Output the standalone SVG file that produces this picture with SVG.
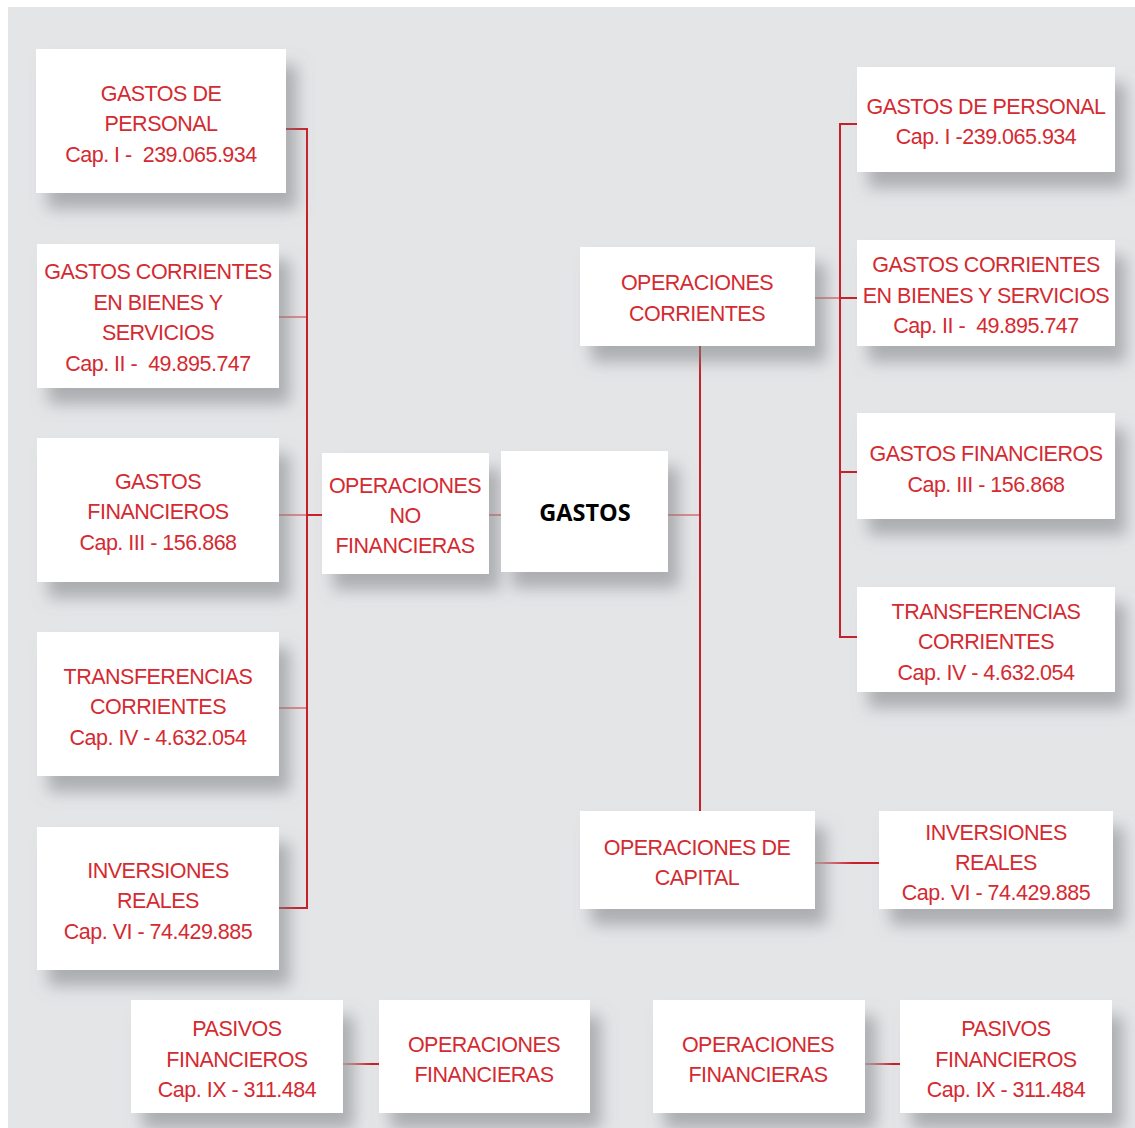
<svg xmlns="http://www.w3.org/2000/svg" width="1135" height="1128" viewBox="0 0 1135 1128">
<defs>
<filter id="sh" x="-20%" y="-20%" width="150%" height="170%">
<feDropShadow dx="11" dy="16" stdDeviation="8" flood-color="#7e8084" flood-opacity="0.55"/>
</filter>
<linearGradient id="g1" gradientUnits="userSpaceOnUse" x1="815" y1="0" x2="879" y2="0"><stop offset="0" stop-color="#dba3a7"/><stop offset="0.6" stop-color="#c8202a"/></linearGradient>
<linearGradient id="g2" gradientUnits="userSpaceOnUse" x1="343" y1="0" x2="379" y2="0"><stop offset="0" stop-color="#dba3a7"/><stop offset="0.8" stop-color="#c8202a"/></linearGradient>
<linearGradient id="g3" gradientUnits="userSpaceOnUse" x1="865" y1="0" x2="900" y2="0"><stop offset="0" stop-color="#dba3a7"/><stop offset="0.8" stop-color="#c8202a"/></linearGradient>
</defs>
<style>
.box{fill:#ffffff;filter:url(#sh)}
.t{font-family:"Liberation Sans",Arial,sans-serif;font-size:21.5px;letter-spacing:-0.5px;fill:#d42a31;text-anchor:middle;white-space:pre}
.b{font-family:"Open Sans","Liberation Sans",sans-serif;font-size:23.5px;font-weight:bold;fill:#000;text-anchor:middle}
.ln{stroke:#c8202a;stroke-width:2;fill:none}
.pk{stroke:#d98a8f;stroke-width:2;fill:none}
</style>
<rect x="0" y="0" width="1135" height="1128" fill="#ffffff"/>
<rect x="8" y="7" width="1127" height="1121" fill="#e4e5e7"/>

<g id="connectors">
<line class="ln" x1="307" y1="129" x2="307" y2="909"/>
<line class="ln" x1="286" y1="129" x2="308" y2="129"/>
<line class="pk" x1="279" y1="317" x2="306" y2="317"/>
<line class="pk" x1="279" y1="515" x2="306" y2="515"/>
<line class="ln" x1="306" y1="515" x2="322" y2="515"/>
<line class="pk" x1="279" y1="708" x2="306" y2="708"/>
<line class="ln" x1="279" y1="908" x2="308" y2="908"/>
<line class="pk" x1="489" y1="515" x2="501" y2="515"/>
<line class="pk" x1="668" y1="515" x2="699" y2="515"/>
<line class="ln" x1="700" y1="346" x2="700" y2="811"/>
<line class="pk" x1="815" y1="298" x2="839" y2="298"/>
<line class="ln" x1="839" y1="298" x2="857" y2="298"/>
<line class="ln" x1="840" y1="123" x2="840" y2="638"/>
<line class="ln" x1="839" y1="124" x2="857" y2="124"/>
<line class="ln" x1="840" y1="472" x2="857" y2="472"/>
<line class="ln" x1="839" y1="637" x2="857" y2="637"/>
<line stroke="url(#g1)" stroke-width="2" x1="815" y1="863" x2="879" y2="863"/>
<line stroke="url(#g2)" stroke-width="2" x1="343" y1="1064" x2="379" y2="1064"/>
<line stroke="url(#g3)" stroke-width="2" x1="865" y1="1064" x2="900" y2="1064"/>
</g>

<g id="l-personal"><rect class="box" x="36" y="49" width="250" height="144"/>
<text class="t" x="161" y="101">GASTOS DE</text><text class="t" x="161" y="131">PERSONAL</text><text class="t" x="161" y="162">Cap. I -  239.065.934</text></g>
<g id="l-corrientes"><rect class="box" x="37" y="244" width="242" height="144"/>
<text class="t" x="158" y="279">GASTOS CORRIENTES</text><text class="t" x="158" y="310">EN BIENES Y</text><text class="t" x="158" y="340">SERVICIOS</text><text class="t" x="158" y="371">Cap. II -  49.895.747</text></g>
<g id="l-financieros"><rect class="box" x="37" y="438" width="242" height="144"/>
<text class="t" x="158" y="489">GASTOS</text><text class="t" x="158" y="519">FINANCIEROS</text><text class="t" x="158" y="550">Cap. III - 156.868</text></g>
<g id="l-transferencias"><rect class="box" x="37" y="632" width="242" height="144"/>
<text class="t" x="158" y="684">TRANSFERENCIAS</text><text class="t" x="158" y="714">CORRIENTES</text><text class="t" x="158" y="745">Cap. IV - 4.632.054</text></g>
<g id="l-inversiones"><rect class="box" x="37" y="827" width="242" height="143"/>
<text class="t" x="158" y="878">INVERSIONES</text><text class="t" x="158" y="908">REALES</text><text class="t" x="158" y="939">Cap. VI - 74.429.885</text></g>

<g id="op-no-fin"><rect class="box" x="322" y="453" width="167" height="121"/>
<text class="t" x="405" y="493">OPERACIONES</text><text class="t" x="405" y="523">NO</text><text class="t" x="405" y="553">FINANCIERAS</text></g>
<g id="gastos"><rect class="box" x="501" y="451" width="167" height="121"/>
<text class="b" x="585" y="521">GASTOS</text></g>

<g id="op-corrientes"><rect class="box" x="580" y="247" width="235" height="99"/>
<text class="t" x="697" y="290">OPERACIONES</text><text class="t" x="697" y="321">CORRIENTES</text></g>
<g id="op-capital"><rect class="box" x="580" y="811" width="235" height="98"/>
<text class="t" x="697" y="855">OPERACIONES DE</text><text class="t" x="697" y="885">CAPITAL</text></g>

<g id="r-personal"><rect class="box" x="857" y="67" width="258" height="105"/>
<text class="t" x="986" y="114">GASTOS DE PERSONAL</text><text class="t" x="986" y="144">Cap. I -239.065.934</text></g>
<g id="r-corrientes"><rect class="box" x="857" y="240" width="258" height="106"/>
<text class="t" x="986" y="272">GASTOS CORRIENTES</text><text class="t" x="986" y="303">EN BIENES Y SERVICIOS</text><text class="t" x="986" y="333">Cap. II -  49.895.747</text></g>
<g id="r-financieros"><rect class="box" x="857" y="413" width="258" height="106"/>
<text class="t" x="986" y="461">GASTOS FINANCIEROS</text><text class="t" x="986" y="492">Cap. III - 156.868</text></g>
<g id="r-transferencias"><rect class="box" x="857" y="587" width="258" height="105"/>
<text class="t" x="986" y="619">TRANSFERENCIAS</text><text class="t" x="986" y="649">CORRIENTES</text><text class="t" x="986" y="680">Cap. IV - 4.632.054</text></g>
<g id="r-inversiones"><rect class="box" x="879" y="811" width="234" height="98"/>
<text class="t" x="996" y="840">INVERSIONES</text><text class="t" x="996" y="870">REALES</text><text class="t" x="996" y="900">Cap. VI - 74.429.885</text></g>

<g id="l-pasivos"><rect class="box" x="131" y="1000" width="212" height="113"/>
<text class="t" x="237" y="1036">PASIVOS</text><text class="t" x="237" y="1067">FINANCIEROS</text><text class="t" x="237" y="1097">Cap. IX - 311.484</text></g>
<g id="l-op-fin"><rect class="box" x="379" y="1000" width="211" height="113"/>
<text class="t" x="484" y="1052">OPERACIONES</text><text class="t" x="484" y="1082">FINANCIERAS</text></g>
<g id="r-op-fin"><rect class="box" x="653" y="1000" width="212" height="113"/>
<text class="t" x="758" y="1052">OPERACIONES</text><text class="t" x="758" y="1082">FINANCIERAS</text></g>
<g id="r-pasivos"><rect class="box" x="900" y="1000" width="212" height="113"/>
<text class="t" x="1006" y="1036">PASIVOS</text><text class="t" x="1006" y="1067">FINANCIEROS</text><text class="t" x="1006" y="1097">Cap. IX - 311.484</text></g>
</svg>
